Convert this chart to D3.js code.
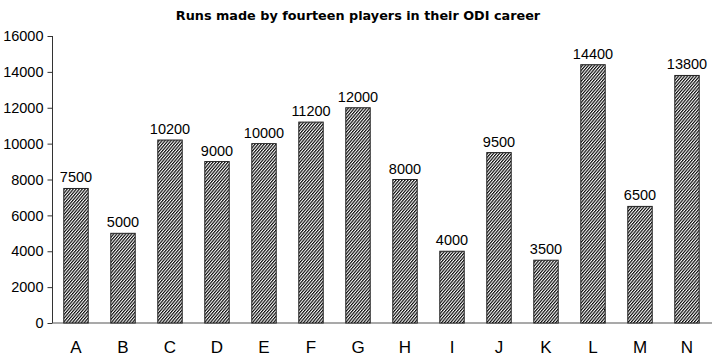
<!DOCTYPE html>
<html><head><meta charset="utf-8">
<script src="https://cdn.jsdelivr.net/npm/d3@7"></script>
<style>body{margin:0;background:#fff}</style>
</head><body>
<svg id="c" width="716" height="358"></svg>
<script>
const categories = ["A","B","C","D","E","F","G","H","I","J","K","L","M","N"];
const runs = [7500,5000,10200,9000,10000,11200,12000,8000,4000,9500,3500,14400,6500,13800];
const yTicks = [0,2000,4000,6000,8000,10000,12000,14000,16000];
const title = "Runs made by fourteen players in their ODI career";

const FONT = "'Liberation Sans', Arial, sans-serif";
const svg = d3.select("#c");
const margin = {left:52.5, right:5.5, top:36, bottom:35};
const W = 716, H = 358;
const x = d3.scaleBand().domain(categories).range([margin.left, W - margin.right]).paddingInner(0.48).paddingOuter(0.24);
const y = d3.scaleLinear().domain([0,16000]).range([H - margin.bottom, margin.top]);

const defs = svg.append("defs");
const pat = defs.append("pattern").attr("id","hatch").attr("patternUnits","userSpaceOnUse")
  .attr("width",2.3).attr("height",2.3).attr("patternTransform","rotate(40)");
pat.append("rect").attr("width",2.3).attr("height",2.3).attr("fill","#fff");
pat.append("line").attr("x1",0.6).attr("y1",0).attr("x2",0.6).attr("y2",2.3).attr("stroke","#000").attr("stroke-width",1.15);

svg.append("text").attr("x",358).attr("y",20).attr("text-anchor","middle")
  .style("font-family","'DejaVu Sans', Verdana, sans-serif").attr("font-weight","bold").attr("font-size",12.8).text(title);

const yAxis = svg.append("g").attr("transform",`translate(${margin.left},0)`)
  .call(d3.axisLeft(y).tickValues(yTicks).tickSize(5).tickPadding(4).tickFormat(d3.format("d")));
yAxis.select(".domain").attr("stroke","#333").attr("d",`M-0,${y(16000)}V${y(0)}`);
yAxis.selectAll(".tick line").attr("stroke","#333");
yAxis.selectAll("text").style("font-family",FONT).attr("font-size",14.5).attr("fill","#000");

svg.append("line").attr("x1",margin.left).attr("x2",712).attr("y1",y(0)).attr("y2",y(0)).attr("stroke","#555").attr("stroke-width",1.2);

svg.selectAll("rect.bar").data(categories).enter().append("rect").attr("class","bar")
  .attr("x",d=>x(d)).attr("width",x.bandwidth())
  .attr("y",(d,i)=>y(runs[i])).attr("height",(d,i)=>y(0)-y(runs[i]))
  .attr("fill","url(#hatch)").attr("stroke","#222").attr("stroke-width",1);

svg.selectAll("text.val").data(categories).enter().append("text").attr("class","val")
  .attr("x",d=>x(d)+x.bandwidth()/2).attr("y",(d,i)=>y(runs[i])-6)
  .attr("text-anchor","middle").style("font-family",FONT).attr("font-size",14.5)
  .text((d,i)=>runs[i]);

svg.selectAll("text.cat").data(categories).enter().append("text").attr("class","cat")
  .attr("x",d=>x(d)+x.bandwidth()/2).attr("y",352.5)
  .attr("text-anchor","middle").style("font-family",FONT).attr("font-size",17)
  .text(d=>d);
</script>
</body></html>
